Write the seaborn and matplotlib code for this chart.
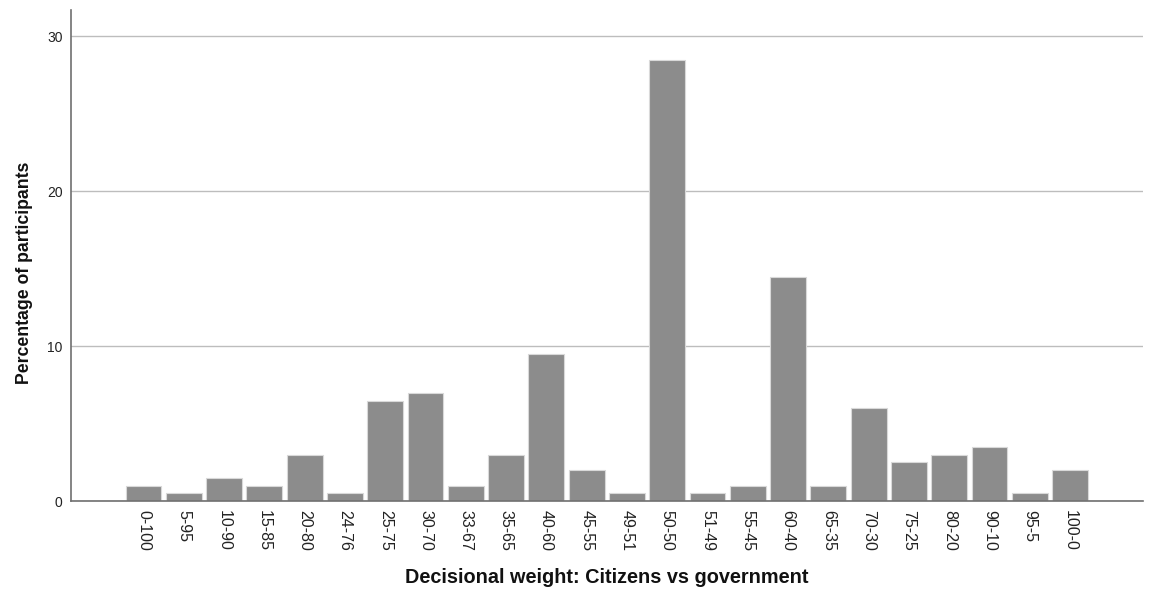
import matplotlib
matplotlib.use('Agg')
import matplotlib.pyplot as plt
import seaborn as sns
import pandas as pd

# decisional weight categories (citizens-government) and % of participants
categories = ['0-100', '5-95', '10-90', '15-85', '20-80', '24-76', '25-75', '30-70',
              '33-67', '35-65', '40-60', '45-55', '49-51', '50-50', '51-49', '55-45',
              '60-40', '65-35', '70-30', '75-25', '80-20', '90-10', '95-5', '100-0']
percentages = [1, 0.5, 1.5, 1, 3, 0.5, 6.5, 7,
               1, 3, 9.5, 2, 0.5, 28.5, 0.5, 1,
               14.5, 1, 6, 2.5, 3, 3.5, 0.5, 2]
yticks = [0, 10, 20, 30]

df = pd.DataFrame({'weight': categories, 'pct': percentages})

sns.set_style('white')
plt.rcParams['font.family'] = ['Liberation Sans', 'DejaVu Sans']

fig = plt.figure(figsize=(11.53, 5.89), dpi=100)
ax = fig.add_axes([0.0616, 0.149, 0.9294, 0.834])

sns.barplot(data=df, x='weight', y='pct', order=categories, color='#8c8c8c',
            saturation=1, width=0.89, edgecolor='#d9d9d9', linewidth=0.8, ax=ax)

ax.set_xlim(-1.8, len(categories) - 1 + 1.8)
ax.set_ylim(0, 31.7)
ax.set_yticks(yticks)
ax.yaxis.grid(True, color='#bdbdbd', linewidth=1)
ax.set_axisbelow(True)
ax.tick_params(axis='both', length=0, colors='#222222')
ax.tick_params(axis='x', pad=6, labelsize=11.5)
ax.tick_params(axis='y', pad=6, labelsize=10)
plt.setp(ax.get_xticklabels(), rotation=-90)

for side in ['top', 'right']:
    ax.spines[side].set_visible(False)
for side in ['left', 'bottom']:
    ax.spines[side].set_color('#707070')
    ax.spines[side].set_linewidth(1.2)

ax.set_xlabel('Decisional weight: Citizens vs government', fontsize=14.3,
              fontweight='bold', color='#111111')
ax.set_ylabel('Percentage of participants', fontsize=12.7, fontweight='bold',
              color='#111111')
ax.xaxis.set_label_coords(0.5, -0.136)
ax.yaxis.set_label_coords(-0.0354, 0.466)

fig.savefig('out.png', dpi=100)
